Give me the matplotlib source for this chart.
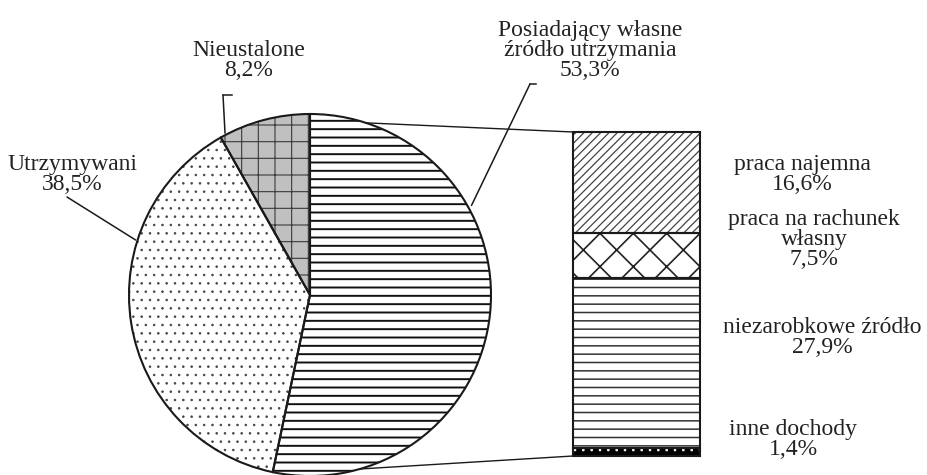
import numpy as np
import matplotlib
matplotlib.use('Agg')
import matplotlib.pyplot as plt
from matplotlib.patches import ConnectionPatch
from matplotlib.lines import Line2D

# ---- data ----
pie_labels = ['Posiadający własne\nźródło utrzymania', 'Utrzymywani', 'Nieustalone']
pie_values = [53.3, 38.5, 8.2]
bar_labels = ['praca najemna', 'praca na rachunek\nwłasny', 'niezarobkowe źródło', 'inne dochody']
bar_values = [16.6, 7.5, 27.9, 1.4]


def fmt(v):
    return f'{v:.1f}'.replace('.', ',') + '%'


W, H = 927, 475
plt.rcParams['font.family'] = ['Liberation Serif', 'DejaVu Serif']
plt.rcParams['hatch.linewidth'] = 1.2
fig = plt.figure(figsize=(W / 100, H / 100), dpi=100)


def fx(x):
    return x / W


def fy(y):
    return 1 - y / H


def set_hlw(patch, lw):
    if hasattr(patch, 'set_hatch_linewidth'):
        patch.set_hatch_linewidth(lw)


# ---- pie ----
cx, cy, r = 310, 295, 181
ax_pie = fig.add_axes([fx(cx - r), fy(cy + r), 2 * r / W, 2 * r / H])
pie_faces = ['white', 'white', '#c0c0c0']
pie_hatches = ['--', '..', '+']
pie_hcolors = ['#111111', '#444444', '#3a3a3a']
pie_hlws = [1.4, 0.6, 0.8]
wedges, _ = ax_pie.pie(pie_values, startangle=90, counterclock=False,
                       colors=pie_faces, hatch=pie_hatches,
                       wedgeprops=dict(linewidth=0))
for w, hc, hl in zip(wedges, pie_hcolors, pie_hlws):
    w.set_edgecolor(hc)
    set_hlw(w, hl)
ax_pie.pie(pie_values, startangle=90, counterclock=False,
           wedgeprops=dict(fill=False, edgecolor='#1a1a1a', linewidth=1.5))
ax_pie.set_xlim(-1, 1)
ax_pie.set_ylim(-1, 1)
ax_pie.axis('off')

# ---- stacked bar ----
bx0, bx1, by0, by1 = 573, 700, 132, 456
ax_bar = fig.add_axes([fx(bx0), fy(by1), (bx1 - bx0) / W, (by1 - by0) / H])
total = sum(bar_values)
vals_bu = bar_values[::-1]
bottoms = np.concatenate([[0], np.cumsum(vals_bu)[:-1]])
bar_faces = ['white', 'white', 'white', 'black'][::-1]
bar_hatches = ['////', 'x', '--', '..'][::-1]
bar_hcolors = ['#444444', '#222222', '#333333', 'white'][::-1]
bar_hlws = [0.9, 1.2, 1.1, 0.7][::-1]
bars = ax_bar.bar(0.5, vals_bu, bottom=bottoms, width=1.0, color=bar_faces, linewidth=0)
for p, h, hc, hl in zip(bars, bar_hatches, bar_hcolors, bar_hlws):
    p.set_hatch(h)
    p.set_edgecolor(hc)
    set_hlw(p, hl)
ax_bar.bar(0.5, vals_bu, bottom=bottoms, width=1.0, fill=False,
           edgecolor='#1a1a1a', linewidth=1.5, clip_on=False)
ax_bar.set_xlim(0, 1)
ax_bar.set_ylim(0, total)
ax_bar.axis('off')

# ---- connector lines pie -> bar ----
for ang, yb in [(72, total), (-74, 0)]:
    a = np.deg2rad(ang)
    con = ConnectionPatch(xyA=(np.cos(a), np.sin(a)), coordsA=ax_pie.transData,
                          xyB=(0, yb), coordsB=ax_bar.transData,
                          color='#1a1a1a', lw=1.0)
    fig.add_artist(con)

# ---- pie labels (x centre, baseline of last line, px) ----
txt_kw = dict(ha='center', va='baseline', fontsize=17, linespacing=0.95, color='#222222')
pie_text_pos = [(590, 76), (72, 190), (249, 76)]
for lab, v, (x, y) in zip(pie_labels, pie_values, pie_text_pos):
    fig.text(fx(x), fy(y), lab + '\n' + fmt(v), **txt_kw)

# leader lines: (hook end px, elbow px, pie angle deg, radius)
leaders = [((536, 84), (530, 84), 29, 1.02),
           (None, (67, 197), 162.5, 1.01),
           ((232, 95), (223, 95), 117.7, 1.01)]
for hook, elbow, ang, rr in leaders:
    a = np.deg2rad(ang)
    con = ConnectionPatch(xyA=(elbow[0], H - elbow[1]), coordsA='figure pixels',
                          xyB=(rr * np.cos(a), rr * np.sin(a)), coordsB=ax_pie.transData,
                          color='#1a1a1a', lw=1.1)
    fig.add_artist(con)
    if hook is not None:
        fig.add_artist(Line2D([fx(hook[0]), fx(elbow[0])], [fy(hook[1]), fy(elbow[1])],
                              transform=fig.transFigure, color='#1a1a1a', lw=1.1))

# ---- bar labels ----
bar_text_pos = [(802, 190), (814, 265), (822, 353), (793, 455)]
for lab, v, (x, y) in zip(bar_labels, bar_values, bar_text_pos):
    fig.text(fx(x), fy(y), lab + '\n' + fmt(v), **txt_kw)

fig.savefig('out.png', dpi=100, facecolor='white')
